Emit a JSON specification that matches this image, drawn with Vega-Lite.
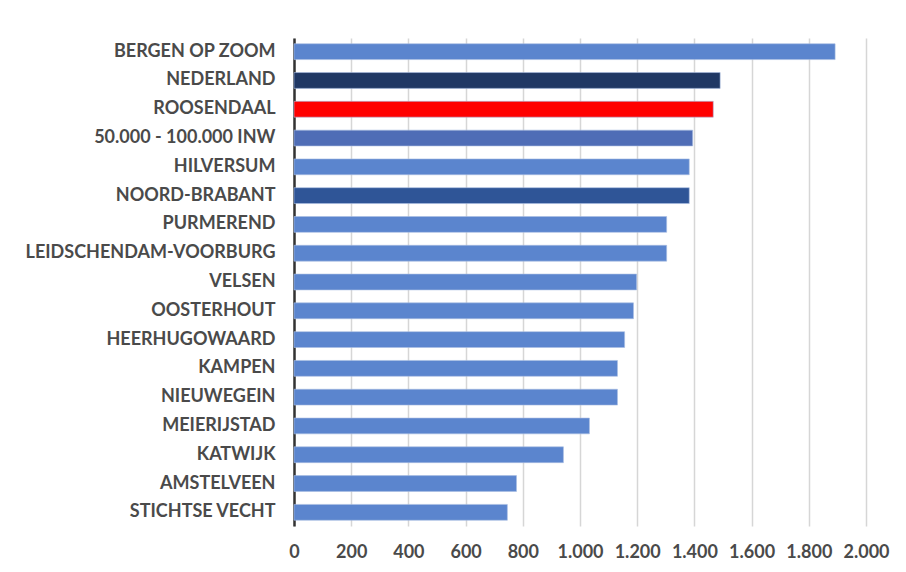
{
  "$schema": "https://vega.github.io/schema/vega-lite/v6.json",
  "autosize": "none",
  "width": 572,
  "height": 488,
  "padding": {"left": 294, "top": 38, "right": 40, "bottom": 46},
  "background": "white",
  "config": {"view": {"stroke": null}},
  "data": {
    "values": [
      {"naam": "BERGEN OP ZOOM", "waarde": 1892, "soort": "gemeente"},
      {"naam": "NEDERLAND", "waarde": 1490, "soort": "nederland"},
      {"naam": "ROOSENDAAL", "waarde": 1466, "soort": "roosendaal"},
      {"naam": "50.000 - 100.000 INW", "waarde": 1394, "soort": "klasse"},
      {"naam": "HILVERSUM", "waarde": 1382, "soort": "gemeente"},
      {"naam": "NOORD-BRABANT", "waarde": 1382, "soort": "provincie"},
      {"naam": "PURMEREND", "waarde": 1303, "soort": "gemeente"},
      {"naam": "LEIDSCHENDAM-VOORBURG", "waarde": 1303, "soort": "gemeente"},
      {"naam": "VELSEN", "waarde": 1198, "soort": "gemeente"},
      {"naam": "OOSTERHOUT", "waarde": 1187, "soort": "gemeente"},
      {"naam": "HEERHUGOWAARD", "waarde": 1156, "soort": "gemeente"},
      {"naam": "KAMPEN", "waarde": 1131, "soort": "gemeente"},
      {"naam": "NIEUWEGEIN", "waarde": 1131, "soort": "gemeente"},
      {"naam": "MEIERIJSTAD", "waarde": 1033, "soort": "gemeente"},
      {"naam": "KATWIJK", "waarde": 942, "soort": "gemeente"},
      {"naam": "AMSTELVEEN", "waarde": 778, "soort": "gemeente"},
      {"naam": "STICHTSE VECHT", "waarde": 746, "soort": "gemeente"}
    ]
  },
  "mark": {"type": "bar", "stroke": "#a9bde3", "strokeWidth": 0.6},
  "encoding": {
    "y": {
      "field": "naam",
      "type": "nominal",
      "sort": null,
      "scale": {"paddingInner": 0.45, "paddingOuter": 0.2},
      "axis": {
        "title": null,
        "ticks": false,
        "labelPadding": 19,
        "labelFont": "Lato",
        "labelFontWeight": "bold",
        "labelFontSize": 18,
        "labelColor": "#4a4a4a",
        "labelLimit": 400,
        "domainColor": "#333333",
        "domainWidth": 2.5,
        "grid": false
      }
    },
    "x": {
      "field": "waarde",
      "type": "quantitative",
      "scale": {"domain": [0, 2000], "nice": false},
      "axis": {
        "title": null,
        "values": [0, 200, 400, 600, 800, 1000, 1200, 1400, 1600, 1800, 2000],
        "labelExpr": "replace(format(datum.value, ',d'), ',', '.')",
        "labelOverlap": false,
        "labelFlush": false,
        "domain": false,
        "ticks": false,
        "labelPadding": 17,
        "labelFont": "Lato",
        "labelFontWeight": "bold",
        "labelFontSize": 18,
        "labelColor": "#4a4a4a",
        "gridColor": "#d6d6d6",
        "gridWidth": 1.5
      }
    },
    "color": {
      "field": "soort",
      "type": "nominal",
      "legend": null,
      "scale": {
        "domain": ["gemeente", "nederland", "roosendaal", "klasse", "provincie"],
        "range": ["#5b85ce", "#203864", "#ff0000", "#4f6db6", "#2f5597"]
      }
    }
  }
}
